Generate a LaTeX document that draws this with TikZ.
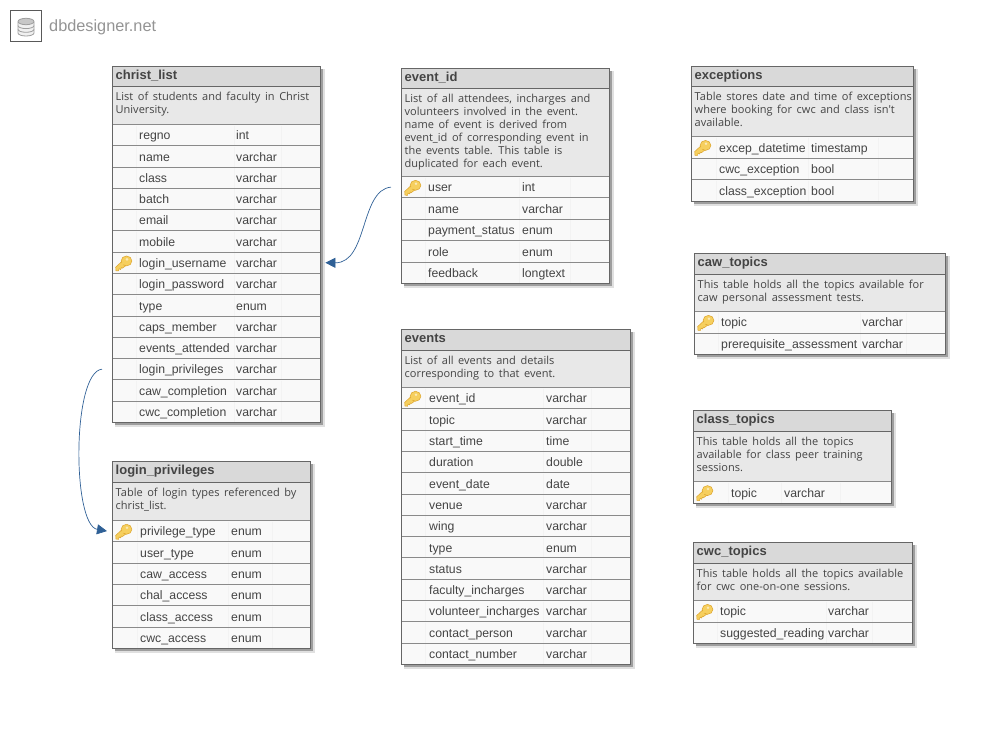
\documentclass[tikz,border=0pt]{standalone}
\usepackage{fontspec}
\setmainfont{Liberation Sans}
\newfontfamily\descfont{Open Sans}
\usetikzlibrary{arrows.meta}
\definecolor{txtcol}{HTML}{444444}
\definecolor{edgecol}{HTML}{666666}
\definecolor{titlefill}{HTML}{D9D9D9}
\definecolor{descfill}{HTML}{E8E8E8}
\definecolor{rowfill}{HTML}{F9F9F9}
\definecolor{rowline}{HTML}{8A8A8A}
\definecolor{colline}{HTML}{F3F3F3}
\definecolor{linkcol}{HTML}{2F6096}
\definecolor{keygold}{HTML}{F6CF5E}
\definecolor{keyedge}{HTML}{DDA42C}
\newcommand\descsetup{\descfont\fontsize{11}{12.9}\selectfont\spaceskip=.42em plus .1em\relax}
\tikzset{
  boxnode/.style={anchor=north west,inner sep=0pt,outer sep=0pt,xshift=-.6pt,yshift=.6pt},
  titlebox/.style={boxnode,fill=titlefill,draw=edgecol,line width=.9pt},
  descbox/.style={boxnode,fill=descfill},
  rowbox/.style={boxnode,fill=rowfill},
  titletext/.style={anchor=base west,inner sep=0pt,text=txtcol,font=\fontsize{13}{15}\selectfont\bfseries},
  desctext/.style={anchor=north west,inner sep=0pt,align=left,text=txtcol,font=\descsetup},
  rowtext/.style={anchor=base west,inner sep=0pt,text=txtcol,font=\fontsize{12.25}{14}\selectfont},
  rowrule/.style={draw=rowline,line width=.8pt},
  colrule/.style={draw=colline,line width=.7pt},
  shadowa/.style={fill=black!12,draw=none},
  shadowb/.style={fill=black!38,draw=none},
  tableedge/.style={draw=edgecol,line width=.8pt},
  relation/.style={draw=linkcol,line width=.7pt,-{Triangle[length=10pt,width=10pt]}},
  keybody/.style={fill=keygold,draw=keyedge,line width=.5pt},
  logoline/.style={draw=black!38,line width=.8pt,fill=black!6}
}
\newcommand\dbkey[2]{%
  \begin{scope}[shift={(#1,#2)}]
    \fill[keybody] (-7.5,7.5) -- (-7.8,3.8) -- (-.5,-3) -- (4,1) -- (-1,4.8) -- (-2.2,4.4) -- (-2.8,6.2) -- (-4.4,5.4) -- (-5,7.6) -- cycle;
    \fill[keybody] (3,-2.4) ellipse[x radius=5.4,y radius=5];
    \fill[keygold] (-5.5,3.5) -- (0,-2) -- (1.5,-.5) -- (-4,4.8) -- cycle;
    \fill[white!55!keygold] (3.5,-4) circle (1.4);
  \end{scope}%
}
% #1 id, #2 x1/x2/ytop/ytitle/ydesc/ybot/nrows, #3 xname/xtype/col1/col2/col3, #4 title, #5 description, #6 rows
\newcommand\dbtable[6]{%
 \foreach \tXa/\tXb/\tYt/\tYh/\tYd/\tYb/\tNr in {#2}{%
 \foreach \tXn/\tXty/\tCa/\tCb/\tCc in {#3}{%
  \pgfmathsetmacro\tWid{\tXb-\tXa}
  \pgfmathsetmacro\tRh{(\tYb-\tYd)/\tNr}
  \pgfmathsetmacro\tHh{\tYh-\tYt}
  \pgfmathsetmacro\tDh{\tYd-\tYh}
  \fill[shadowa] (\tXa+2,\tYt+2) rectangle (\tXb+4,\tYb+4);
  \fill[shadowb] (\tXa+2,\tYt+2) rectangle (\tXb+2.4,\tYb+2.4);
  \node[descbox,minimum width=\tWid pt,minimum height=\tDh pt] (#1-descbox) at (\tXa,\tYh) {};
  \node[desctext] (#1-desc) at (\tXa+2.5,\tYh+5) {#5};
  \foreach \rName/\rType/\rKey [count=\rIdx] in {#6}{%
    \pgfmathsetmacro\rTop{\tYd+(\rIdx-1)*\tRh}
    \pgfmathsetmacro\rMid{\rTop+.5*\tRh}
    \pgfmathsetmacro\rBase{\rMid+4.2}
    \node[rowbox,minimum width=\tWid pt,minimum height=\tRh pt] (#1-\rIdx) at (\tXa,\rTop) {};
    \draw[rowrule] (#1-\rIdx.north west) -- (#1-\rIdx.north east);
    \draw[colrule] (\tCa,\rTop+.5) -- (\tCa,\rTop+\tRh-.5) (\tCb,\rTop+.5) -- (\tCb,\rTop+\tRh-.5) (\tCc,\rTop+.5) -- (\tCc,\rTop+\tRh-.5);
    \node[rowtext] (#1-\rIdx-name) at (\tXn,\rBase) {\rName};
    \node[rowtext] (#1-\rIdx-type) at (\tXty,\rBase) {\rType};
    \pgfmathsetmacro\rKeyx{\tXa+10.5}
    \ifnum\rKey=1 \dbkey{\rKeyx}{\rMid}\fi
  }
  \draw[tableedge] (\tXa-.6,\tYt-.6) rectangle (\tXb-.6,\tYb-.6);
  \node[titlebox,minimum width=\tWid pt,minimum height=\tHh pt] (#1-titlebox) at (\tXa,\tYt) {};
  \node[titletext] (#1-title) at (\tXa+2.5,\tYt+12) {#4};
 }}%
}
\begin{document}
\begin{tikzpicture}[x=1pt,y=-1pt]
\useasboundingbox (0,0) rectangle (994,736);
% logo
\node[boxnode,draw=black!65,line width=.9pt,minimum width=31pt,minimum height=31pt] (logo) at (11.1,11.1) {};
\begin{scope}[shift={(logo.center)}]
  \draw[logoline] (-8,-4) -- (-8,7) arc[start angle=180,end angle=360,x radius=8,y radius=-3] -- (8,-4);
  \draw[logoline] (-8,3.3) arc[start angle=180,end angle=360,x radius=8,y radius=-3];
  \draw[logoline] (-8,-.4) arc[start angle=180,end angle=360,x radius=8,y radius=-3];
  \draw[logoline,fill=black!22] (0,-4.5) ellipse[x radius=8,y radius=3.2];
\end{scope}
\node[anchor=base west,inner sep=0pt,text=black!42,font=\fontsize{16.3}{18}\selectfont] (logotext) at (49,31.5) {dbdesigner.net};

\dbtable{christ}{113/321/67/87/125/423/14}{139/236/136/234/281}{christ\_list}
 {List of students and faculty in Christ\\University.}
 {regno/int/0,name/varchar/0,class/varchar/0,batch/varchar/0,email/varchar/0,mobile/varchar/0,login\_username/varchar/1,login\_password/varchar/0,type/enum/0,caps\_member/varchar/0,events\_attended/varchar/0,login\_privileges/varchar/0,caw\_completion/varchar/0,cwc\_completion/varchar/0}

\dbtable{login}{113/311/462/483/521/649/6}{140/231/137/228/272}{login\_privileges}
 {Table of login types referenced by\\christ\_list.}
 {privilege\_type/enum/1,user\_type/enum/0,caw\_access/enum/0,chal\_access/enum/0,class\_access/enum/0,cwc\_access/enum/0}

\dbtable{eventid}{402/610/69/89/177/284/5}{428/522/425/519/570}{event\_id}
 {List of all attendees, incharges and\\volunteers involved in the event.\\name of event is derived from\\event\_id of corresponding event in\\the events table. This table is\\duplicated for each event.}
 {user/int/1,name/varchar/0,payment\_status/enum/0,role/enum/0,feedback/longtext/0}

\dbtable{events}{402/631/330/351/388/665/13}{429/546/425/543/591}{events}
 {List of all events and details\\corresponding to that event.}
 {event\_id/varchar/1,topic/varchar/0,start\_time/time/0,duration/double/0,event\_date/date/0,venue/varchar/0,wing/varchar/0,type/enum/0,status/varchar/0,faculty\_incharges/varchar/0,volunteer\_incharges/varchar/0,contact\_person/varchar/0,contact\_number/varchar/0}

\dbtable{except}{692/914/67/87/137/202/3}{719/811/716/808/878}{exceptions}
 {Table stores date and time of exceptions\\where booking for cwc and class isn't\\available.}
 {excep\_datetime/timestamp/1,cwc\_exception/bool/0,class\_exception/bool/0}

\dbtable{caw}{695/946/254/275/312/355/2}{721/862/718/860/906}{caw\_topics}
 {This table holds all the topics available for\\caw personal assessment tests.}
 {topic/varchar/1,prerequisite\_assessment/varchar/0}

\dbtable{class}{694/892/411/432/482/504/1}{731/784/728/781/840}{class\_topics}
 {This table holds all the topics\\available for class peer training\\sessions.}
 {topic/varchar/1}

\dbtable{cwc}{694/913/543/564/601/644/2}{720/828/717/826/872}{cwc\_topics}
 {This table holds all the topics available\\for cwc one-on-one sessions.}
 {topic/varchar/1,suggested\_reading/varchar/0}

% connectors
\coordinate (r1s) at ([xshift=-10.4pt]eventid-1.west);
\coordinate (r1e) at ([xshift=5pt]christ-7.east);
\draw[relation] (r1s) .. controls (360,190) and (368,263) .. (r1e);
\coordinate (r2s) at ([xshift=-10.4pt]christ-12.west);
\coordinate (r2e) at ([xshift=-5.4pt]login-1.west);
\draw[relation] (r2s) .. controls (72,372) and (72,525) .. (r2e);
\end{tikzpicture}
\end{document}
